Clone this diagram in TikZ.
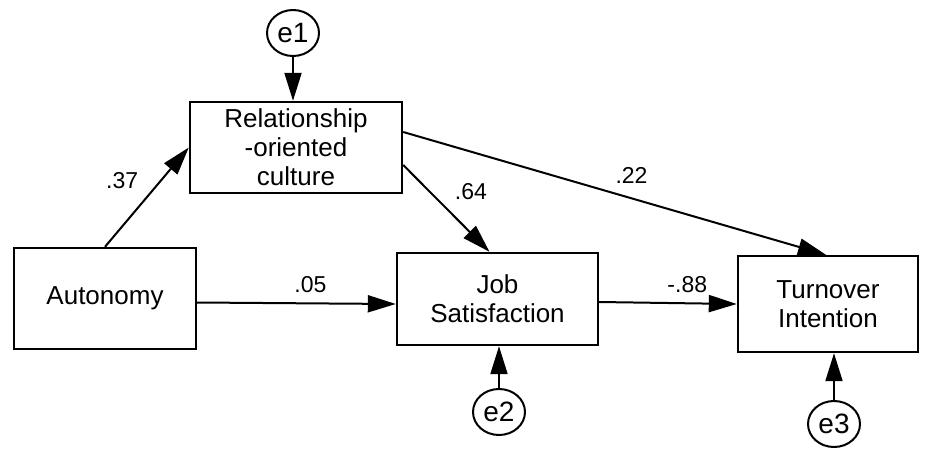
\documentclass[tikz,border=0pt]{standalone}
\usepackage{fontspec}
\setmainfont{Liberation Sans}
\usetikzlibrary{positioning,arrows.meta,shapes.geometric}

\begin{document}
\begin{tikzpicture}[x=0.5pt, y=-0.5pt,
    var/.style={draw, line width=1.2pt, align=center, inner sep=0pt, font=\fontsize{13}{14.5}\selectfont},
    err/.style={draw, ellipse, line width=1pt, inner sep=0pt, minimum width=26pt, minimum height=23pt, font=\fontsize{14}{16}\selectfont},
    arr/.style={-{Triangle[length=14pt, width=8.5pt]}, line width=1pt},
    coef/.style={inner sep=2pt, font=\fontsize{11.5}{13}\selectfont},
]
\useasboundingbox (0,0) rectangle (938,450);

% Observed variables
\node[var, minimum width=91pt, minimum height=50.5pt] (aut) at (105,298.5) {Autonomy};
\node[var, minimum width=106pt, minimum height=45.5pt] (rel) at (296,147.5) {Relationship\\-oriented\\culture};
\node[var, minimum width=100.5pt, minimum height=46pt] (job) at (497.5,299) {Job\\Satisfaction};
\node[var, minimum width=90pt, minimum height=48pt] (turn) at (828,304) {Turnover\\Intention};

% Error terms
\node[err] (e1) at (293,33) {e1};
\node[err] (e2) at (499,412) {e2};
\node[err] (e3) at (834,424) {e3};

% Paths
\draw[arr] (aut.north) -- node[coef, pos=0.67, left=9pt] {.37} (rel.west);
\draw[arr] ([yshift=-8.75pt]rel.east) -- node[coef, pos=0.31, right=10pt] {.64} ([xshift=-4pt]job.north);
\draw[arr] ([yshift=7.75pt]rel.east) -- node[coef, pos=0.54, above=5pt] {.22} ([xshift=-1pt]turn.north);
\draw[arr] ([yshift=-2pt]aut.east) -- node[coef, pos=0.57, above=3pt] {.05} ([yshift=-2.5pt]job.west);
\draw[arr] ([yshift=-1.5pt]job.east) -- node[coef, pos=0.64, above=3pt] {-.88} (turn.west);

% Residuals
\draw[arr] (e1.south) -- (e1.south |- rel.north);
\draw[arr] (e2.north) -- (e2.north |- job.south);
\draw[arr] (e3.north) -- (e3.north |- turn.south);
\end{tikzpicture}
\end{document}
